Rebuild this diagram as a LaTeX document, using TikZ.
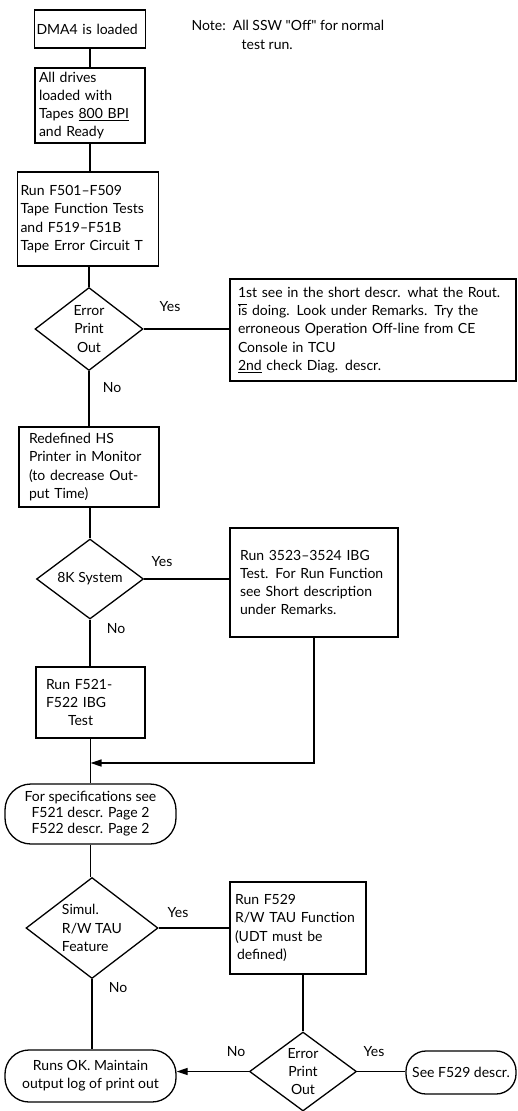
\documentclass[tikz,border=0pt]{standalone}
\usepackage{fontspec}
\setmainfont{Lato}
\newfontfamily\plainquote{Lato}
\usetikzlibrary{shapes.geometric,arrows.meta}

\begin{document}
\begin{tikzpicture}[x=1pt,y=-1pt,line width=1.3pt,
  font=\fontsize{14}{18.3}\selectfont,
  stepbox/.style={draw, rectangle, align=left, inner ysep=0pt},
  decision/.style={draw, diamond, inner sep=0pt, align=center},
  terminal/.style={draw, rectangle, align=center, inner sep=0pt},
  answer/.style={inner sep=0pt},
  flow/.style={-{Triangle[length=11pt,width=7pt]}}]

\useasboundingbox (0,0) rectangle (518,1111);

% preparation
\node[stepbox, minimum height=38pt, text width=107pt, inner xsep=2pt] (dma) at (90,29) {DMA4 is loaded};
\node[answer, align=left, anchor=west] (note) at (191,35) {Note:\enspace All SSW {\plainquote"}Off{\plainquote"} for normal\\\hspace*{50pt}test run.};
\node[stepbox, minimum height=75pt, text width=102pt, inner xsep=4pt] (drives) at (90,105.5) {All drives\\loaded with\\Tapes \underline{800 BPI}\\and Ready};

% tape function tests
\node[stepbox, minimum height=94pt, text width=135pt, inner xsep=3pt] (func) at (88,219) {Run F501--F509\\Tape Function Tests\\and F519--F51B\\Tape Error Circuit T};
\node[decision, minimum width=108pt, minimum height=83pt, aspect=1.3] (err) at (89,329) {Error\\Print\\Out};
\node[stepbox, minimum height=102pt, text width=270pt, inner xsep=8pt] (check) at (373,330) {1st see in the short descr. what the Rout.\\$\overline{\mbox{is}}$ doing. Look under Remarks. Try the\\erroneous Operation Off-line from CE\\Console in TCU\\\underline{2nd} check Diag. descr.};
\node[answer] (erryes) at (170,307) {Yes};
\node[answer] (errno) at (112,388) {No};

% printer and IBG tests
\node[stepbox, minimum height=80pt, text width=120pt, inner xsep=10pt] (printer) at (89,467) {Redefined HS\\Printer in Monitor\\(to decrease Out-\\put Time)};
\node[decision, minimum width=107pt, minimum height=80pt, aspect=1.34] (sys) at (90,579) {8K System};
\node[stepbox, minimum height=109pt, text width=148pt, inner xsep=10pt] (ibg) at (314,582.5) {Run 3523--3524 IBG\\Test. For Run Function\\see Short description\\under Remarks.};
\node[answer] (sysyes) at (162,562) {Yes};
\node[answer] (sysno) at (116,629) {No};
\node[stepbox, minimum height=71pt, text width=89pt, inner xsep=10pt] (shortibg) at (90.5,702.5) {Run F521-\\F522 IBG\\\hspace*{22pt}Test};
\coordinate (merge) at (90.5,763);
\node[terminal, rounded corners=26pt, minimum width=171pt, minimum height=60pt, font=\fontsize{14}{16}\selectfont] (spec) at (90.5,814) {For specifications see\\F521 descr. Page 2\\F522 descr. Page 2};

% TAU feature
\node[decision, minimum width=132pt, minimum height=101pt, aspect=1.31, align=left] (tau) at (92,928) {Simul.\\R/W TAU\\Feature};
\node[stepbox, minimum height=92pt, text width=126pt, inner xsep=5pt] (tauf) at (298,928) {Run F529\\R/W TAU Function\\(UDT must be\\\hspace*{2pt}defined)};
\node[answer] (tauyes) at (178,913) {Yes};
\node[answer] (tauno) at (118,988) {No};
\node[decision, minimum width=107pt, minimum height=79pt, aspect=1.35] (tauerr) at (303,1071.5) {Error\\Print\\Out};
\node[answer] (tauerrno) at (236,1052) {No};
\node[answer] (tauerryes) at (374,1052) {Yes};
\node[terminal, rounded corners=20pt, minimum width=110pt, minimum height=43pt] (see) at (461,1072.5) {See F529 descr.};
\node[terminal, rounded corners=24pt, minimum width=171pt, minimum height=52pt] (ok) at (90.5,1076) {Runs OK. Maintain\\output log of print out};

% connectors
\draw (dma.south) -- (dma.south |- drives.north);
\draw (drives.south) -- (drives.south |- func.north);
\draw (func.south -| err.north) -- (err.north);
\draw (err.east) -- (err.east -| check.west);
\draw (err.south) -- (err.south |- printer.north);
\draw (printer.south) -- (printer.south -| sys.north) -- (sys.north);
\draw (sys.east) -- (sys.east -| ibg.west);
\draw (sys.south) -- (sys.south |- shortibg.north);
\draw (shortibg.south) -- (spec.north);
\draw[flow] (ibg.south) |- (merge);
\draw (spec.south) -- (spec.south |- tau.north);
\draw (tau.east) -- (tau.east -| tauf.west);
\draw (tau.south) -- (tau.south |- ok.north);
\draw (tauf.south -| tauerr.north) -- (tauerr.north);
\draw (tauerr.east) -- (see.west |- tauerr.east);
\draw[flow] (tauerr.west) -- (ok.east |- tauerr.west);

\end{tikzpicture}
\end{document}
